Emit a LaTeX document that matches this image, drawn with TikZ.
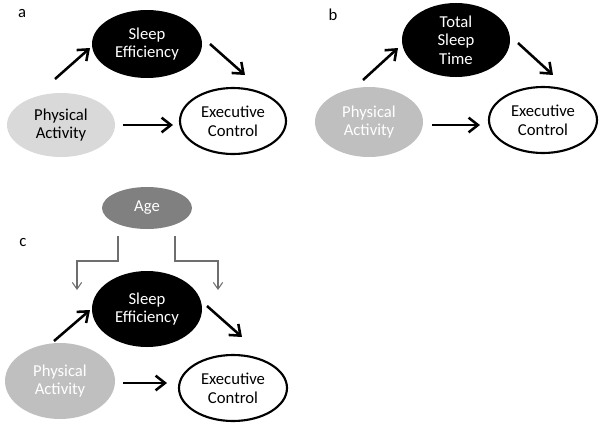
\documentclass[tikz,border=0pt]{standalone}
\usepackage{fontspec}
\setmainfont{Carlito}
\usetikzlibrary{shapes.geometric,arrows.meta}
\definecolor{palegray}{RGB}{217,217,217}
\definecolor{midgray}{RGB}{191,191,191}
\definecolor{agegray}{RGB}{128,128,128}
\definecolor{linkgray}{RGB}{110,110,110}
\begin{document}
\begin{tikzpicture}[x=0.75pt,y=0.75pt,yscale=-1,xscale=1,
  var/.style={ellipse,inner sep=0pt,align=center,font=\fontsize{12.5}{14}\selectfont},
  dark/.style={var,fill=black,text=white},
  pale/.style={var,fill=palegray},
  grey/.style={var,fill=midgray,text=white},
  outcome/.style={var,draw=black,line width=1.6pt,fill=white},
  moder/.style={var,fill=agegray,text=white},
  panel/.style={font=\fontsize{12.5}{14}\selectfont},
  arr/.style={-{Straight Barb[length=7pt,width=11pt]},line width=1.9pt},
  modarr/.style={-{Straight Barb[length=5pt,width=7pt]},line width=0.8pt,draw=linkgray}]
\useasboundingbox (0,0) rectangle (604,430);

% Panel a
\node[panel] (la) at (22,14) {a};
\node[dark,minimum width=82.5pt,minimum height=51pt] (sea) at (147,44) {Sleep\\Efficiency};
\node[pale,minimum width=81pt,minimum height=48pt] (paa) at (61,125) {Physical\\Activity};
\node[outcome,minimum width=79.5pt,minimum height=49.5pt] (eca) at (233,121) {Executive\\Control};
\draw[arr] (paa) ++(-6,-46) -- ++(35,-31);
\draw[arr] (sea) ++(63,0) -- ++(35,31);
\draw[arr] (paa) ++(62,0) -- ++(50,0);

% Panel b
\node[panel] (lb) at (333,15) {b};
\node[dark,minimum width=81pt,minimum height=55.5pt] (tstb) at (456,40) {Total\\Sleep\\Time};
\node[grey,minimum width=81pt,minimum height=52.5pt] (pab) at (369,122) {Physical\\Activity};
\node[outcome,minimum width=81pt,minimum height=49.5pt] (ecb) at (543,120) {Executive\\Control};
\draw[arr] (pab) ++(-6,-42) -- ++(35,-32);
\draw[arr] (tstb) ++(62,3) -- ++(35,32);
\draw[arr] (pab) ++(63,3) -- ++(48,0);

% Panel c
\node[panel] (lc) at (23,243) {c};
\node[moder,minimum width=67.5pt,minimum height=31.5pt] (agec) at (147,208) {Age};
\node[dark,minimum width=82.5pt,minimum height=57pt] (sec) at (147,309) {Sleep\\Efficiency};
\node[grey,minimum width=82.5pt,minimum height=57pt] (pac) at (60,381) {Physical\\Activity};
\node[outcome,minimum width=81pt,minimum height=49.5pt] (ecc) at (233,388) {Executive\\Control};
\draw[modarr] (agec) ++(-29,28) |- ++(-41,25) -- ++(0,29);
\draw[modarr] (agec) ++(28,28) |- ++(43,25) -- ++(0,29);
\draw[arr] (pac) ++(-6,-40) -- ++(36,-31);
\draw[arr] (sec) ++(60,-3) -- ++(35,31);
\draw[arr] (pac) ++(63,2) -- ++(44,0);

\end{tikzpicture}
\end{document}
